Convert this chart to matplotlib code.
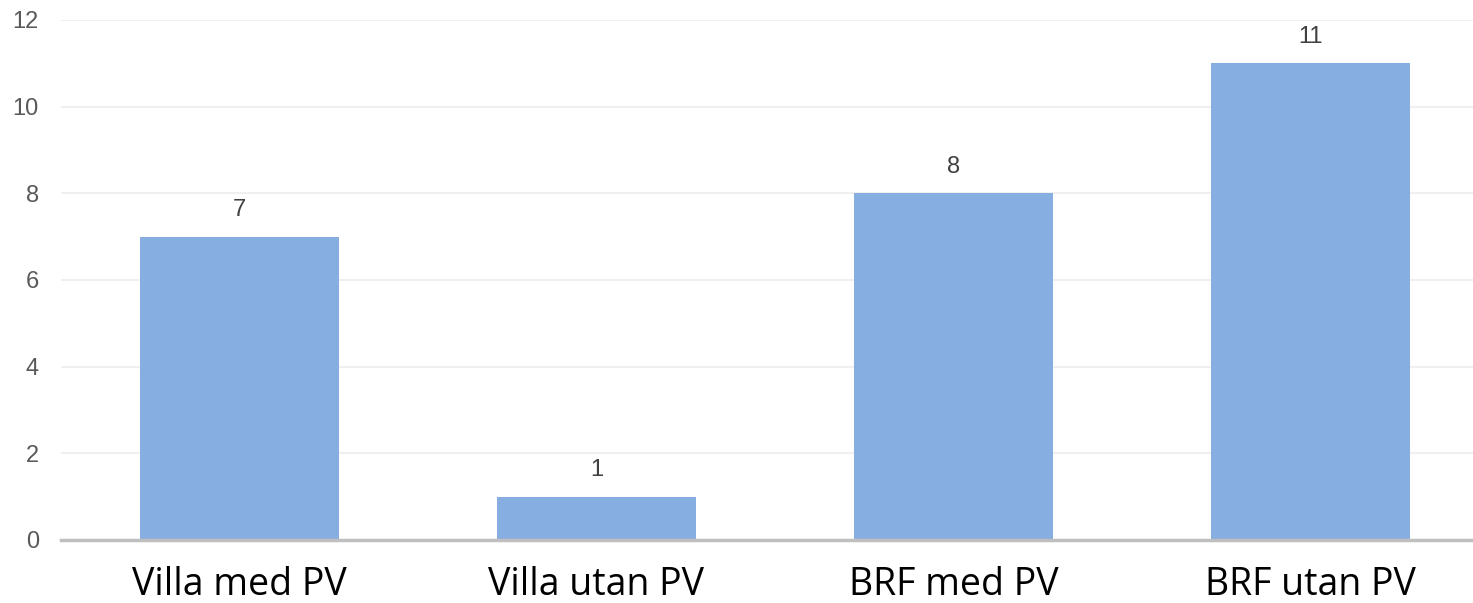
import matplotlib
matplotlib.use("Agg")
import matplotlib.pyplot as plt

categories = ["Villa med PV", "Villa utan PV", "BRF med PV", "BRF utan PV"]
values = [7, 1, 8, 11]
y_ticks = [0, 2, 4, 6, 8, 10, 12]

fig = plt.figure(figsize=(14.73, 6.03), dpi=100)
ax = fig.add_axes([61 / 1473, 63 / 603, 1428 / 1473, 520 / 603])

x = list(range(len(categories)))
bars = ax.bar(x, values, width=0.557, color="#87aee0", zorder=2)

ax.set_xlim(-0.5, len(categories) - 0.5)
ax.set_ylim(0, 12)
ax.set_yticks(y_ticks)
ax.set_yticklabels([str(t) for t in y_ticks], fontsize=17, color="#595959",
                   family="Liberation Sans")
ax.set_xticks(x)
ax.set_xticklabels(categories, fontsize=27, color="black",
                   family=["Open Sans", "DejaVu Sans"])
ax.tick_params(axis="y", length=0, pad=16)
ax.tick_params(axis="x", length=0, pad=19)

ax.grid(axis="y", color="#f0f0f0", linewidth=1.5, zorder=0)
for side in ["top", "right", "left"]:
    ax.spines[side].set_visible(False)
ax.spines["bottom"].set_color("#bfbfbf")
ax.spines["bottom"].set_linewidth(2.5)
ax.spines["bottom"].set_zorder(3)

for xi, v in zip(x, values):
    ax.annotate(str(v), (xi, v), xytext=(0, 11), textcoords="offset points",
                ha="center", va="bottom", fontsize=17, color="#404040",
                family="Liberation Sans")

fig.savefig("out.png", dpi=100)
